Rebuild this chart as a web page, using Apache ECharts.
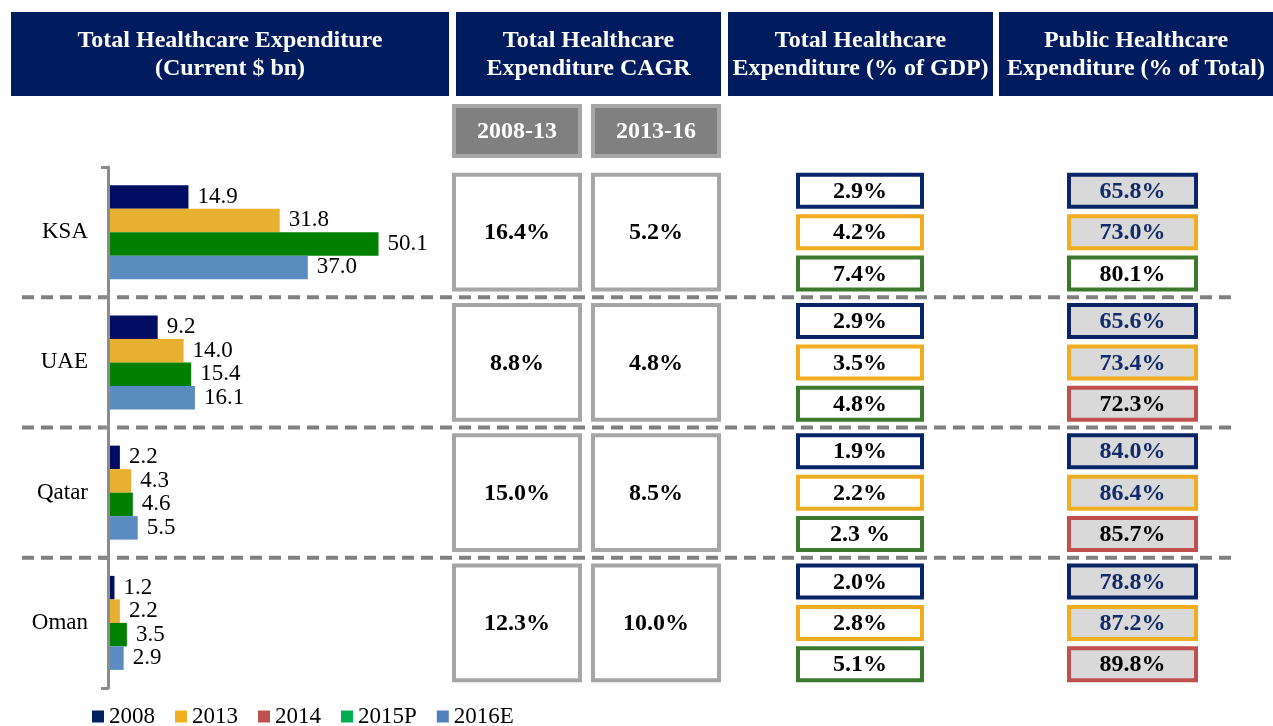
<!DOCTYPE html>
<html>
<head>
<meta charset="utf-8">
<script src="https://cdn.jsdelivr.net/npm/echarts@6/dist/echarts.min.js"></script>
<style>
  html, body { margin: 0; padding: 0; background: #fff; }
  #chart { width: 1273px; height: 726px; }
</style>
</head>
<body>
<div id="chart"></div>
<script>
// 数据
const countries = ['KSA', 'UAE', 'Qatar', 'Oman'];
const years = ['2008', '2013', '2014', '2015P', '2016E'];
const spend2008 = [14.9, 9.2, 2.2, 1.2];
const spend2013 = [31.8, 14.0, 4.3, 2.2];
const spend2014 = [];
const spend2015 = [50.1, 15.4, 4.6, 3.5];
const spend2016 = [37.0, 16.1, 5.5, 2.9];
const cagr0813 = [16.4, 8.8, 15.0, 12.3];
const cagr1316 = [5.2, 4.8, 8.5, 10.0];
const gdpShare = [[2.9, 4.2, 7.4], [2.9, 3.5, 4.8], [1.9, 2.2, 2.3], [2.0, 2.8, 5.1]];
const publicShare = [[65.8, 73.0, 80.1], [65.6, 73.4, 72.3], [84.0, 86.4, 85.7], [78.8, 87.2, 89.8]];
const headers = [
  'Total Healthcare Expenditure\n(Current $ bn)',
  'Total Healthcare\nExpenditure CAGR',
  'Total Healthcare\nExpenditure (% of GDP)',
  'Public Healthcare\nExpenditure (% of Total)'
];
const periods = ['2008-13', '2013-16'];

const SERIF = '"Liberation Serif", "Times New Roman", serif';
const BOLD = 'bold 24px ' + SERIF;
const NAVY = '#001c5e';
const BOX_NAVY = '#0a2468';
const BOX_ORANGE = '#f0ad1f';
const BOX_GREEN = '#3b7a2c';
const BOX_RED = '#c0504d';
const barColors = ['#000d63', '#e8b030', '#c0504d', '#008000', '#5b8cc0'];
const legendColors = ['#002060', '#f0ae21', '#c0504d', '#00b050', '#4f81bd'];

const pct = v => v.toFixed(1) + '%';

// 表格单元（按国家类目轴定位）
function flatten(rows) {
  const out = [];
  rows.forEach((r, c) => r.forEach((v, i) => out.push([c, i, v])));
  return out;
}

function rowBoxes(name, rows, x, w, isPublic) {
  return {
    type: 'custom', name: name, xAxisIndex: 1, yAxisIndex: 2,
    encode: { x: 2, y: 0 },
    data: flatten(rows),
    renderItem: function (params, api) {
      const c = api.value(0), r = api.value(1), v = api.value(2);
      const center = api.coord([x + w / 2, c]);
      const band = api.size([0, 1])[1];
      const cy = center[1] + (r - 1) * band * 0.318;
      const h = 36;
      let stroke = [BOX_NAVY, BOX_ORANGE, BOX_GREEN][r];
      let fill = '#fff';
      let color = '#000';
      if (isPublic) {
        fill = '#d9d9d9';
        if (r < 2) color = '#102a6a';
        if (r === 2) {
          if (c === 0) { fill = '#fff'; } else { stroke = BOX_RED; }
        }
      }
      let label = pct(v);
      if (!isPublic && c === 2 && r === 2) label = v.toFixed(1) + ' %';
      return {
        type: 'group',
        children: [
          { type: 'rect', shape: { x: x + 2, y: cy - h / 2 + 2, width: w - 4, height: h - 4 },
            style: { fill: fill, stroke: stroke, lineWidth: 4 } },
          { type: 'text', style: { text: label, x: x + w / 2, y: cy + 1, align: 'center', verticalAlign: 'middle',
            font: BOLD, fill: color } }
        ]
      };
    }
  };
}

function cagrBoxes(values, x, w) {
  return {
    type: 'custom', xAxisIndex: 1, yAxisIndex: 2,
    encode: { x: 1, y: 0 },
    data: values.map((v, c) => [c, v]),
    renderItem: function (params, api) {
      const c = api.value(0), v = api.value(1);
      const center = api.coord([x + w / 2, c]);
      const band = api.size([0, 1])[1];
      const h = band * 0.91;
      return {
        type: 'group',
        children: [
          { type: 'rect', shape: { x: x + 2, y: center[1] - h / 2 + 2, width: w - 4, height: h - 4 },
            style: { fill: '#fff', stroke: '#a6a6a6', lineWidth: 4 } },
          { type: 'text', style: { text: pct(v), x: x + w / 2, y: center[1] + 1, align: 'center', verticalAlign: 'middle',
            font: BOLD, fill: '#000' } }
        ]
      };
    }
  };
}

// 国家之间的虚线分隔
const separators = {
  type: 'custom', xAxisIndex: 1, yAxisIndex: 2, z: 1,
  encode: { x: 1, y: 0 },
  data: countries.slice(0, -1).map((c, i) => [i, 0]),
  renderItem: function (params, api) {
    const center = api.coord([0, api.value(0)]);
    const band = api.size([0, 1])[1];
    const y = center[1] + band / 2;
    return { type: 'line', shape: { x1: 22, y1: y, x2: 1235, y2: y },
      style: { stroke: '#808080', lineWidth: 4, lineDash: [12, 7] } };
  }
};

const headerBoxes = [[11, 438], [456, 265], [728, 265], [999, 274]];
const graphic = [];
headers.forEach((t, i) => {
  const [x, w] = headerBoxes[i];
  graphic.push({ type: 'rect', shape: { x: x, y: 12, width: w, height: 84 }, style: { fill: NAVY } });
  graphic.push({ type: 'text', style: { text: t, x: x + w / 2, y: 55, align: 'center', verticalAlign: 'middle',
    font: BOLD, lineHeight: 28, fill: '#fff' } });
});
const periodBoxes = [452, 591];
periods.forEach((t, i) => {
  const x = periodBoxes[i];
  graphic.push({ type: 'rect', shape: { x: x + 2, y: 106, width: 126, height: 50 },
    style: { fill: '#808080', stroke: '#a6a6a6', lineWidth: 4 } });
  graphic.push({ type: 'text', style: { text: t, x: x + 65, y: 132, align: 'center', verticalAlign: 'middle',
    font: BOLD, fill: '#fff' } });
});

const barLabel = {
  show: true, position: 'right', distance: 9,
  fontFamily: SERIF, fontSize: 23, color: '#000',
  formatter: p => p.value.toFixed(1)
};

function barSeries(name, data, i, axis) {
  return {
    type: 'bar', name: name, data: data, xAxisIndex: 0, yAxisIndex: axis,
    barWidth: 23.5, barGap: '0%',
    itemStyle: { color: barColors[i] },
    label: barLabel
  };
}

const option = {
  animation: false,
  backgroundColor: '#fff',
  graphic: graphic,
  grid: [
    { left: 108, top: 167, width: 324, height: 521 },
    { left: 0, top: 167, width: 1273, height: 521 }
  ],
  legend: {
    left: 92, top: 705, padding: 0, itemGap: 20,
    itemWidth: 12, itemHeight: 12, icon: 'rect',
    textStyle: { fontFamily: SERIF, fontSize: 23, color: '#000' },
    data: years.map((y, i) => ({ name: y, itemStyle: { color: legendColors[i] } }))
  },
  xAxis: [
    { gridIndex: 0, type: 'value', min: 0, max: 60, show: false },
    { gridIndex: 1, type: 'value', min: 0, max: 1273, show: false }
  ],
  yAxis: [
    {
      gridIndex: 0, type: 'category', data: countries, inverse: true,
      axisLine: { show: true, lineStyle: { color: '#8c8c8c', width: 3 } },
      axisTick: { show: true, length: 7, lineStyle: { color: '#8c8c8c', width: 3 } },
      axisLabel: { margin: 20, fontFamily: SERIF, fontSize: 23, color: '#000' },
      z: 5
    },
    { gridIndex: 0, type: 'category', data: countries, inverse: true, show: false },
    { gridIndex: 1, type: 'category', data: countries, inverse: true, show: false }
  ],
  series: [
    separators,
    barSeries('2008', spend2008, 0, 0),
    barSeries('2013', spend2013, 1, 0),
    barSeries('2014', spend2014, 2, 1),
    barSeries('2015P', spend2015, 3, 0),
    barSeries('2016E', spend2016, 4, 0),
    cagrBoxes(cagr0813, 452, 130),
    cagrBoxes(cagr1316, 591, 130),
    rowBoxes('gdp', gdpShare, 796, 128, false),
    rowBoxes('public', publicShare, 1067, 131, true)
  ]
};

const chart = echarts.init(document.getElementById('chart'));
chart.setOption(option);
</script>
</body>
</html>
